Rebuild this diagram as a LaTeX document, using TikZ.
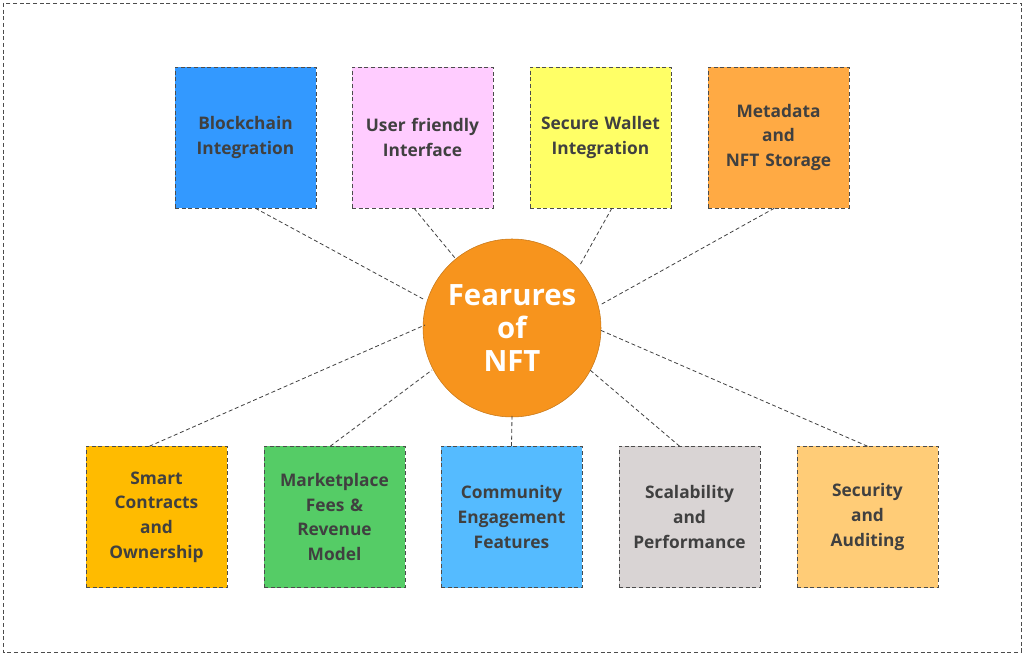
\documentclass[tikz,border=0pt]{standalone}
\usepackage{fontspec}
\setmainfont{Open Sans}
\usetikzlibrary{calc}
\definecolor{txt}{HTML}{404040}
\definecolor{c1}{HTML}{3399FF}
\definecolor{c2}{HTML}{FFCCFF}
\definecolor{c3}{HTML}{FFFF66}
\definecolor{c4}{HTML}{FFAA44}
\definecolor{c5}{HTML}{FFBB00}
\definecolor{c6}{HTML}{55CC66}
\definecolor{c7}{HTML}{55BBFF}
\definecolor{c8}{HTML}{D9D4D4}
\definecolor{c9}{HTML}{FFCC77}
\definecolor{cc}{HTML}{F7941D}
\begin{document}
\begin{tikzpicture}[x=0.75pt,y=-0.75pt,
 box/.style={draw=black!70,densely dashed,minimum width=105.75pt,minimum height=105.75pt,text width=96pt,align=center,font=\fontsize{13}{18.5}\selectfont\bfseries,text=txt,inner sep=0pt},
 ln/.style={densely dashed,black!75,semithick}]
\useasboundingbox (0,0) rectangle (1024,655);
\draw[densely dashed,black!70,semithick] (3,3) rectangle (1021,652);
\node[circle,fill=cc,draw=cc!80!black,minimum size=133.5pt,align=center,text=white,font=\fontsize{22}{25}\selectfont\bfseries] (c) at (512,328) {Fearures\\of\\NFT};
\node[box,fill=c1] (t1) at (245.5,137.5) {Blockchain\\Integration};
\node[box,fill=c2] (t2) at (422.5,137.5) {User friendly\\Interface};
\node[box,fill=c3] (t3) at (600.5,137.5) {Secure Wallet\\Integration};
\node[box,fill=c4] (t4) at (778.5,137.5) {Metadata\\and\\NFT Storage};
\node[box,fill=c5] (b1) at (156.5,517) {Smart\\Contracts\\and\\Ownership};
\node[box,fill=c6] (b2) at (334.5,517) {Marketplace\\Fees \&\\Revenue\\Model};
\node[box,fill=c7] (b3) at (511.5,517) {Community\\Engagement\\Features};
\node[box,fill=c8] (b4) at (689.5,517) {Scalability\\and\\Performance};
\node[box,fill=c9] (b5) at (867.5,517) {Security\\and\\Auditing};
\coordinate (e1) at (425,300); \coordinate (e2) at (455,258);
\coordinate (e3) at (580,265); \coordinate (e4) at (600,305);
\coordinate (f1) at (425,325); \coordinate (f2) at (432,370);
\coordinate (f3) at (512,416); \coordinate (f4) at (590,370);
\coordinate (f5) at (600,330);
\draw[ln] ($(t1.south west)!0.57!(t1.south east)$) -- (e1);
\draw[ln] ($(t2.south west)!0.44!(t2.south east)$) -- (e2);
\draw[ln] ($(t3.south west)!0.58!(t3.south east)$) -- (e3);
\draw[ln] ($(t4.south west)!0.47!(t4.south east)$) -- (e4);
\draw[ln] ($(b1.north west)!0.45!(b1.north east)$) -- (f1);
\draw[ln] ($(b2.north west)!0.47!(b2.north east)$) -- (f2);
\draw[ln] (b3.north) -- (f3);
\draw[ln] ($(b4.north west)!0.43!(b4.north east)$) -- (f4);
\draw[ln] ($(b5.north west)!0.50!(b5.north east)$) -- (f5);
\end{tikzpicture}
\end{document}
